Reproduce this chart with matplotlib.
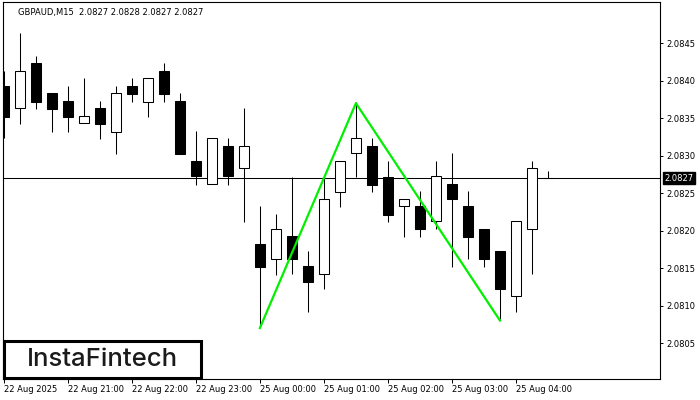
import numpy as np
import matplotlib
matplotlib.use("Agg")
import matplotlib.pyplot as plt
from matplotlib.patches import Rectangle

# GBPAUD M15 candles
opens = [2.08393, 2.08363, 2.08423, 2.08383, 2.08373, 2.08343, 2.08363, 2.08331,
         2.08393, 2.08371, 2.08413, 2.08373, 2.08293, 2.08262, 2.08313, 2.08283,
         2.08182, 2.08162, 2.08193, 2.08153, 2.08142, 2.08251, 2.08303, 2.08313,
         2.08271, 2.08233, 2.08233, 2.08213, 2.08262, 2.08233, 2.08202, 2.08173,
         2.08113, 2.08202, 2.08270]
highs = [2.08413, 2.08463, 2.08433, 2.08383, 2.08393, 2.08403, 2.08373, 2.08393,
         2.08403, 2.08403, 2.08423, 2.08383, 2.08333, 2.08323, 2.08323, 2.08363,
         2.08233, 2.08222, 2.08271, 2.08173, 2.08271, 2.08293, 2.08371, 2.08323,
         2.08293, 2.08242, 2.08253, 2.08293, 2.08303, 2.08253, 2.08202, 2.08173,
         2.08213, 2.08293, 2.08280]
lows = [2.08323, 2.08342, 2.08362, 2.08331, 2.08331, 2.08343, 2.08322, 2.08302,
        2.08371, 2.08351, 2.08371, 2.08302, 2.08261, 2.08262, 2.08261, 2.08211,
        2.08071, 2.08141, 2.08142, 2.08091, 2.08122, 2.08231, 2.08271, 2.08251,
        2.08211, 2.08191, 2.08191, 2.08202, 2.08151, 2.08162, 2.08151, 2.08082,
        2.08091, 2.08142, 2.08270]
closes = [2.08351, 2.08413, 2.08371, 2.08362, 2.08351, 2.08353, 2.08342, 2.08383,
          2.08382, 2.08403, 2.08382, 2.08302, 2.08273, 2.08323, 2.08273, 2.08313,
          2.08151, 2.08202, 2.08162, 2.08131, 2.08242, 2.08293, 2.08323, 2.08261,
          2.08221, 2.08242, 2.08202, 2.08273, 2.08242, 2.08191, 2.08162, 2.08122,
          2.08213, 2.08283, 2.08270]

# double top pattern: low - peak - low
pattern_idx = [16, 22, 31]
pattern_price = [2.0807, 2.0837, 2.0808]

last_price = 2.0827
title = "GBPAUD,M15  2.0827 2.0828 2.0827 2.0827"

time_idx = [0, 4, 8, 12, 16, 20, 24, 28, 32]
time_labels = ["22 Aug 2025", "22 Aug 21:00", "22 Aug 22:00", "22 Aug 23:00",
               "25 Aug 00:00", "25 Aug 01:00", "25 Aug 02:00", "25 Aug 03:00",
               "25 Aug 04:00"]
price_ticks = [2.0805, 2.0810, 2.0815, 2.0820, 2.0825, 2.0830, 2.0835, 2.0840, 2.0845]

plt.rcParams["font.family"] = "DejaVu Sans"
fs = 6

fig = plt.figure(figsize=(7, 4), dpi=100)
ax = fig.add_axes([3/700, 21/400, 657/700, 377/400])

o = np.array(opens)
h = np.array(highs)
l = np.array(lows)
c = np.array(closes)
x = np.arange(len(o))
up = c >= o

lw = 0.75
ax.vlines(x, l, h, color="black", linewidth=lw, zorder=2)
ax.bar(x[up], c[up] - o[up], bottom=o[up], width=0.62, color="white",
       edgecolor="black", linewidth=lw, zorder=3)
ax.bar(x[~up], o[~up] - c[~up], bottom=c[~up], width=0.62, color="black",
       edgecolor="black", linewidth=lw, zorder=3)

ax.axhline(last_price, color="black", linewidth=lw, zorder=1)
ax.plot(pattern_idx, pattern_price, color="#00f000", linewidth=1.6, zorder=4)

ax.set_xlim(-0.05, 41.0)
ax.set_ylim(2.08002, 2.08505)

ax.yaxis.tick_right()
ax.set_yticks(price_ticks)
ax.set_yticklabels(["%.4f" % p for p in price_ticks])
ax.tick_params(axis="y", length=2.5, width=0.7, pad=2, labelsize=fs)
ax.set_xticks(time_idx)
ax.set_xticklabels(time_labels)
ax.tick_params(axis="x", length=3, width=0.7, pad=1.5, labelsize=fs)
for lab in ax.get_xticklabels():
    lab.set_ha("left")
for sp in ax.spines.values():
    sp.set_linewidth(0.8)

ax.annotate("%.4f" % last_price, xy=(1.0, last_price),
            xycoords=("axes fraction", "data"), xytext=(3, 0),
            textcoords="offset points", va="center", ha="left",
            fontsize=fs, color="white",
            bbox=dict(boxstyle="square,pad=0.15", fc="black", ec="black"))

fig.text(18/700, 1 - 12/400, title, fontsize=fs, va="center", ha="left",
         color="black")

# logo box
fig.patches.append(Rectangle((4/700, 1 - 378/400), 197/700, 37/400,
                             transform=fig.transFigure, fc="white", ec="black",
                             linewidth=2.2, zorder=5))
fig.text(102/700, 1 - 360/400, "InstaFintech", fontsize=18.5, family="Inter",
         weight="medium", va="center", ha="center", color="#1a1a1a", zorder=6)

fig.savefig("out.png", dpi=100)
